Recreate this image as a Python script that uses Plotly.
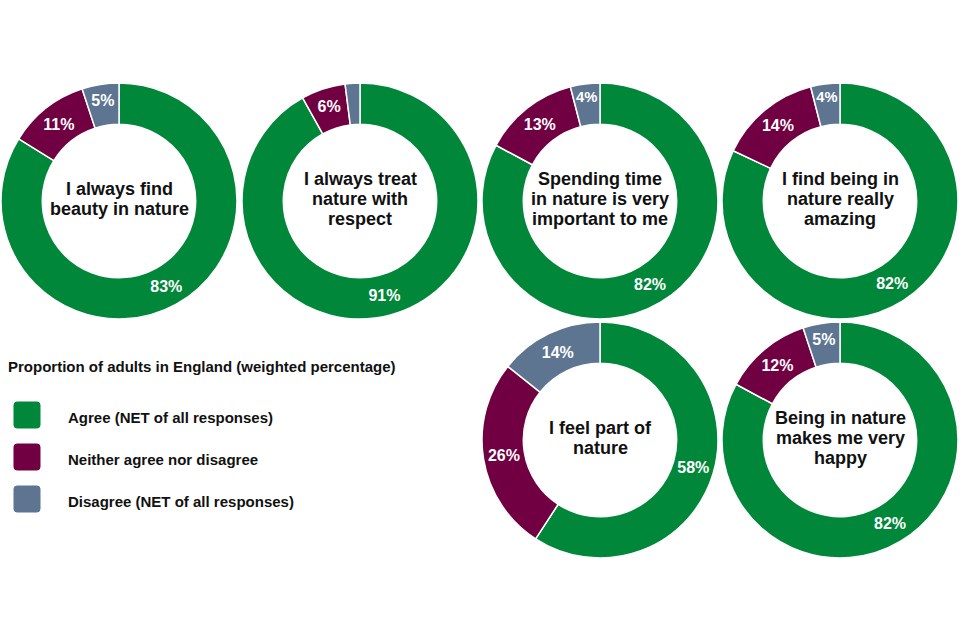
import plotly.graph_objects as go

# survey statements and shares (Agree, Neither, Disagree)
statements = [
    ["I always find", "beauty in nature"],
    ["I always treat", "nature with", "respect"],
    ["Spending time", "in nature is very", "important to me"],
    ["I find being in", "nature really", "amazing"],
    ["I feel part of", "nature"],
    ["Being in nature", "makes me very", "happy"],
]
agree = [83, 91, 82, 82, 58, 82]
neither = [11, 6, 13, 14, 26, 12]
disagree = [5, 2, 4, 4, 14, 5]
show_label = [
    [True, True, True],
    [True, True, False],
    [True, True, True],
    [True, True, True],
    [True, True, True],
    [True, True, True],
]

categories = ["Agree (NET of all responses)", "Neither agree nor disagree",
              "Disagree (NET of all responses)"]
colors = ["#00873A", "#710042", "#5D7591"]
legend_title = "Proportion of adults in England (weighted percentage)"

W, H = 960, 640
R = 118
centers = [(119, 201), (360, 201), (600, 201), (840, 201), (600, 440), (840, 440)]
FONT = "Liberation Sans, Arial, sans-serif"
LINE = 20  # line spacing of the centre text, px


def rounded_square(x0, y0, size, r):
    # svg path in pixel coords (y down) -> paper coords
    px = lambda x: x / W
    py = lambda y: 1 - y / H
    x1, y1 = x0 + size, y0 + size
    return ("M %f,%f L %f,%f Q %f,%f %f,%f L %f,%f Q %f,%f %f,%f "
            "L %f,%f Q %f,%f %f,%f L %f,%f Q %f,%f %f,%f Z") % (
        px(x0 + r), py(y0), px(x1 - r), py(y0), px(x1), py(y0), px(x1), py(y0 + r),
        px(x1), py(y1 - r), px(x1), py(y1), px(x1 - r), py(y1),
        px(x0 + r), py(y1), px(x0), py(y1), px(x0), py(y1 - r),
        px(x0), py(y0 + r), px(x0), py(y0), px(x0 + r), py(y0))


fig = go.Figure()

for i, (cx, cy) in enumerate(centers):
    vals = [agree[i], neither[i], disagree[i]]
    txt = ["%d%%" % v if s else "" for v, s in zip(vals, show_label[i])]
    fig.add_trace(go.Pie(
        labels=categories,
        values=vals,
        text=txt,
        textinfo="text",
        textposition="inside",
        insidetextorientation="horizontal",
        textfont=dict(family=FONT, size=16, color="white", weight="bold"),
        hole=0.65,
        sort=False,
        direction="clockwise",
        rotation=0,
        marker=dict(colors=colors, line=dict(color="white", width=1.5)),
        domain=dict(x=[(cx - R) / W, (cx + R) / W],
                    y=[1 - (cy + R) / H, 1 - (cy - R) / H]),
        showlegend=False,
        hoverinfo="label+value",
    ))
    lines = statements[i]
    for j, line in enumerate(lines):
        ly = cy - 2 + (j - (len(lines) - 1) / 2) * LINE
        fig.add_annotation(
            x=cx / W, y=1 - ly / H, xref="paper", yref="paper",
            xanchor="center", yanchor="middle",
            text=line, showarrow=False,
            font=dict(family=FONT, size=18, color="#111111", weight="bold"),
        )

# custom legend on the left
fig.add_annotation(
    x=6 / W, y=1 - 366 / H, xref="paper", yref="paper",
    xanchor="left", yanchor="middle",
    text=legend_title, showarrow=False,
    font=dict(family=FONT, size=15, color="#111111", weight="bold"),
)
for k, (name, col) in enumerate(zip(categories, colors)):
    top = 402 + k * 42
    fig.add_shape(type="path", xref="paper", yref="paper",
                  path=rounded_square(14, top, 26, 3),
                  fillcolor=col, line=dict(color=col, width=1))
    fig.add_annotation(
        x=66 / W, y=1 - (top + 15) / H, xref="paper", yref="paper",
        xanchor="left", yanchor="middle", text=name, showarrow=False,
        font=dict(family=FONT, size=15, color="#111111", weight="bold"),
    )

fig.update_layout(
    width=W, height=H,
    margin=dict(l=0, r=0, t=0, b=0),
    paper_bgcolor="white", plot_bgcolor="white",
)

fig.write_html("out.html", config={"displayModeBar": False},
               post_script="document.body.style.margin='0';")
